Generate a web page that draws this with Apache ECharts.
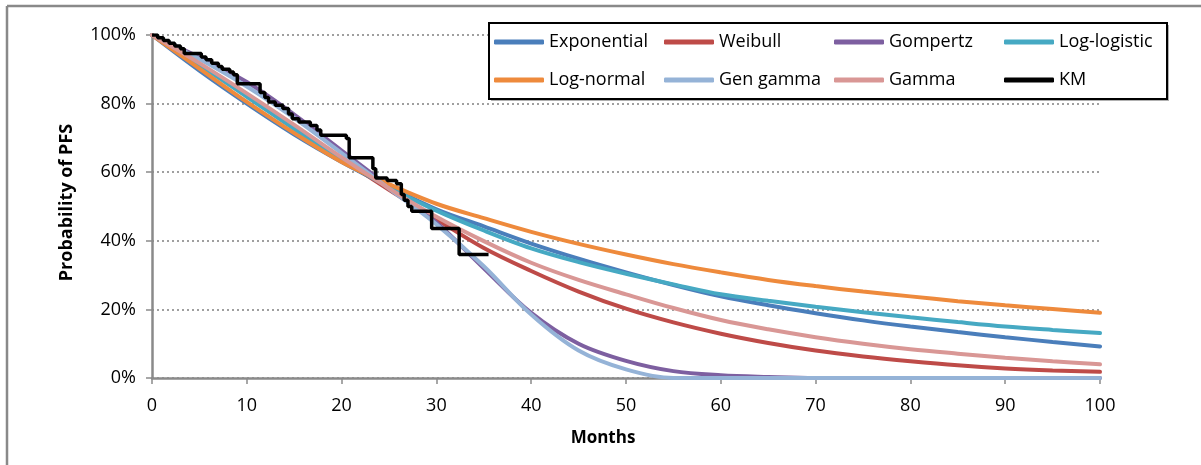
<!DOCTYPE html>
<html>
<head>
<meta charset="utf-8">
<script src="https://cdn.jsdelivr.net/npm/echarts@6/dist/echarts.min.js"></script>
<style>
html,body{margin:0;padding:0;background:#fff;}
#chart{width:1201px;height:465px;}
</style>
</head>
<body>
<div id="chart"></div>
<script>
// parametric fits, read every 5 months
var months = [0,5,10,15,20,25,30,35,40,45,50,55,60,65,70,75,80,85,90,95,100];
var exponential = [100,89.6,80.0,71.0,63.0,55.8,49.2,44.2,39.2,34.8,30.8,27.1,23.8,21.2,18.9,16.8,15.0,13.4,11.9,10.5,9.2];
var weibull     = [100,91.5,82.6,73.4,64.0,54.9,46.3,37.9,31.2,25.2,20.2,16.2,12.9,10.2,8.0,6.3,4.9,3.7,2.8,2.2,1.8];
var gompertz    = [100,93.5,86.3,76.8,66.3,55.8,45.3,32.0,19.0,10.0,5.0,2.0,0.8,0.3,0,0,0,0,0,0,0];
var logLogistic = [100,91.2,82.0,72.6,63.6,55.6,48.8,43.0,37.8,33.8,30.4,27.3,24.4,22.5,20.8,19.2,17.7,16.3,15.0,14.0,13.1];
var logNormal   = [100,90.2,80.5,71.4,63.0,56.5,50.8,46.6,42.6,39.1,36.0,33.2,30.8,28.6,26.8,25.2,23.8,22.4,21.2,20.1,19.0];
var genGamma    = [100,93.0,85.0,75.8,65.6,55.2,44.8,32.6,18.5,8.0,2.5,0,0,0,0,0,0,0,0,0,0];
var gamma       = [100,91.8,83.0,73.8,64.3,55.3,47.0,39.9,33.6,28.6,24.4,20.4,16.9,14.2,11.9,10.0,8.4,7.1,5.9,4.9,4.0];

// Kaplan-Meier steps
var kmMonths = [0,0.6,1.2,1.8,2.4,3.0,3.4,5.2,5.7,6.3,7.0,7.4,8.2,8.6,9.0,11.4,11.9,12.3,13.0,13.8,14.4,14.8,15.5,16.7,17.4,17.8,20.5,20.8,23.3,23.6,24.8,25.8,26.3,26.6,27.0,27.4,29.5,32.4,35.5];
var kmSurv   = [100,99.2,98.4,97.6,96.8,96.0,94.6,93.6,92.8,91.8,90.8,90.0,89.2,88.4,85.8,83.2,81.8,80.5,79.5,78.6,77.0,75.6,74.6,73.6,72.3,70.8,69.8,64.2,61.0,58.3,57.6,56.6,53.5,51.8,50.0,48.6,43.6,36.0,36.0];

var legendRow1 = ['Exponential','Weibull','Gompertz','Log-logistic'];
var legendRow2 = ['Log-normal','Gen gamma','Gamma','KM'];

var font = '"Open Sans", sans-serif';

function pairs(xs, ys) {
    return xs.map(function (x, i) { return [x, ys[i]]; });
}

function fit(name, vals, color) {
    return {
        name: name,
        type: 'line',
        data: pairs(months, vals),
        smooth: 0.35,
        symbol: 'none',
        clip: false,
        color: color,
        lineStyle: {width: 4, color: color, cap: 'round'}
    };
}

var chart = echarts.init(document.getElementById('chart'));

var legendBase = {
    left: 494,
    padding: 0,
    icon: 'roundRect',
    itemWidth: 50,
    itemHeight: 5,
    itemGap: 5,
    selectedMode: false,
    textStyle: {fontFamily: font, fontSize: 18, color: '#000', width: 110, lineHeight: 20}
};

chart.setOption({
    animation: false,
    grid: {left: 152, right: 101, top: 35, bottom: 87},
    xAxis: {
        type: 'value',
        min: 0, max: 100, interval: 10,
        name: 'Months',
        nameLocation: 'middle',
        nameGap: 52,
        nameTextStyle: {fontFamily: font, fontSize: 17, fontWeight: 'bold', color: '#000', padding: [0, 46, 0, 0]},
        axisLine: {lineStyle: {color: '#8a8a8a', width: 2.5}},
        axisTick: {show: true, length: 6, lineStyle: {color: '#8a8a8a', width: 1.5}},
        axisLabel: {fontFamily: font, fontSize: 18, color: '#000', margin: 19},
        splitLine: {show: false}
    },
    yAxis: {
        type: 'value',
        min: 0, max: 100, interval: 20,
        name: 'Probability of PFS',
        nameLocation: 'middle',
        nameGap: 76,
        nameTextStyle: {fontFamily: font, fontSize: 18, fontWeight: 'bold', color: '#000', padding: [0, 0, 0, 8]},
        axisLine: {show: true, lineStyle: {color: '#8a8a8a', width: 2.5}},
        axisTick: {show: true, length: 6, lineStyle: {color: '#8a8a8a', width: 1.5}},
        axisLabel: {fontFamily: font, fontSize: 18, color: '#000', margin: 16, formatter: '{value}%'},
        splitLine: {show: true, lineStyle: {color: '#808080', width: 1.5, type: [2, 3]}}
    },
    legend: [
        Object.assign({}, legendBase, {top: 32, data: legendRow1}),
        Object.assign({}, legendBase, {top: 70, data: legendRow2})
    ],
    graphic: [
        {type: 'line', shape: {x1: 7, y1: 6, x2: 1201, y2: 6}, style: {stroke: '#898989', lineWidth: 2.5}},
        {type: 'line', shape: {x1: 7, y1: 6, x2: 7, y2: 465}, style: {stroke: '#898989', lineWidth: 2.5}},
        {type: 'rect', z: 3, shape: {x: 491, y: 25, width: 678, height: 76}, style: {fill: '#b0b0b0'}},
        {type: 'rect', z: 3, shape: {x: 489, y: 23, width: 678, height: 76}, style: {fill: '#fff', stroke: '#000', lineWidth: 2}}
    ],
    series: [
        fit('Exponential', exponential, '#4a7ebb'),
        fit('Weibull', weibull, '#be4b48'),
        fit('Gompertz', gompertz, '#7d5fa0'),
        fit('Log-logistic', logLogistic, '#46a9c3'),
        fit('Log-normal', logNormal, '#ee8a3c'),
        fit('Gen gamma', genGamma, '#95b3d7'),
        fit('Gamma', gamma, '#d99795'),
        {
            name: 'KM',
            type: 'line',
            data: pairs(kmMonths, kmSurv),
            step: 'end',
            symbol: 'none',
            color: '#000',
            lineStyle: {width: 3.5, color: '#000'}
        }
    ]
});
</script>
</body>
</html>
